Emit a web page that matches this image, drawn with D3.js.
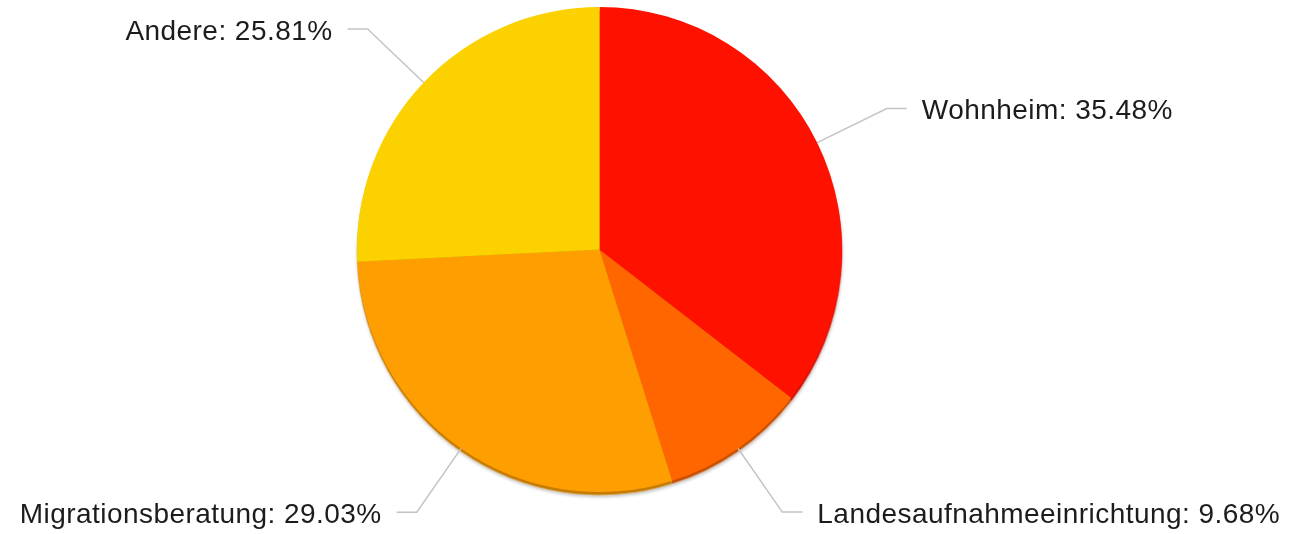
<!DOCTYPE html>
<html>
<head>
<meta charset="utf-8">
<script src="https://cdn.jsdelivr.net/npm/d3@7"></script>
<style>
  html, body { margin: 0; padding: 0; background: #fff; }
  svg { display: block; }
  text { font-family: "Liberation Sans", Arial, sans-serif; }
</style>
</head>
<body>
<svg id="chart" width="1309" height="534"></svg>
<script>
// Slice data
const categories = ["Wohnheim", "Landesaufnahmeeinrichtung", "Migrationsberatung", "Andere"];
const percentages = [35.48, 9.68, 29.03, 25.81];
const sliceColors = ["#ff1100", "#ff6600", "#ff9e00", "#fbd200"];

const width = 1309, height = 534;
const cx = 599.5, cy = 249.5, radius = 242.5;
const elbowRadius = 320;   // where the connector bends
const runLength = 20;      // horizontal part of the connector
const textGap = 15;

const svg = d3.select("#chart");
const defs = svg.append("defs");
const f = defs.append("filter").attr("id", "shadow")
  .attr("x", "-10%").attr("y", "-10%").attr("width", "120%").attr("height", "120%");
f.append("feDropShadow").attr("dx", 0.5).attr("dy", 2).attr("stdDeviation", 1.5)
  .attr("flood-color", "#000").attr("flood-opacity", 0.25);

const data = categories.map((c, i) => ({ name: c, value: percentages[i], color: sliceColors[i] }));

const pie = d3.pie().value(d => d.value).sort(null);
const arcs = pie(data);
const arc = d3.arc().innerRadius(0).outerRadius(radius);

const g = svg.append("g").attr("transform", `translate(${cx},${cy})`);

// darker rim beneath the pie
const rim = g.append("g").attr("filter", "url(#shadow)");
rim.selectAll("path").data(arcs).join("path")
  .attr("d", arc)
  .attr("transform", "translate(0,3)")
  .attr("fill", d => d3.color(d.data.color).darker(0.7));

g.append("g").selectAll("path").data(arcs).join("path")
  .attr("d", arc)
  .attr("fill", d => d.data.color);

// connectors and labels
const labels = svg.append("g");
arcs.forEach(a => {
  const mid = (a.startAngle + a.endAngle) / 2;
  const sx = cx + radius * Math.sin(mid), sy = cy - radius * Math.cos(mid);
  const ex = cx + elbowRadius * Math.sin(mid), ey = cy - elbowRadius * Math.cos(mid);
  const right = Math.sin(mid) > 0;
  const tx = ex + (right ? runLength : -runLength);
  labels.append("path")
    .attr("d", d3.line()([[sx, sy], [ex, ey], [tx, ey]]))
    .attr("fill", "none")
    .attr("stroke", "#c4c4c4")
    .attr("stroke-width", 1.5);
  labels.append("text")
    .attr("x", tx + (right ? textGap : -textGap))
    .attr("y", ey + 10.5)
    .attr("text-anchor", right ? "start" : "end")
    .attr("font-size", 28)
    .attr("letter-spacing", 0.45)
    .attr("fill", "#1c1c1c")
    .text(`${a.data.name}: ${a.data.value.toFixed(2)}%`);
});
</script>
</body>
</html>
